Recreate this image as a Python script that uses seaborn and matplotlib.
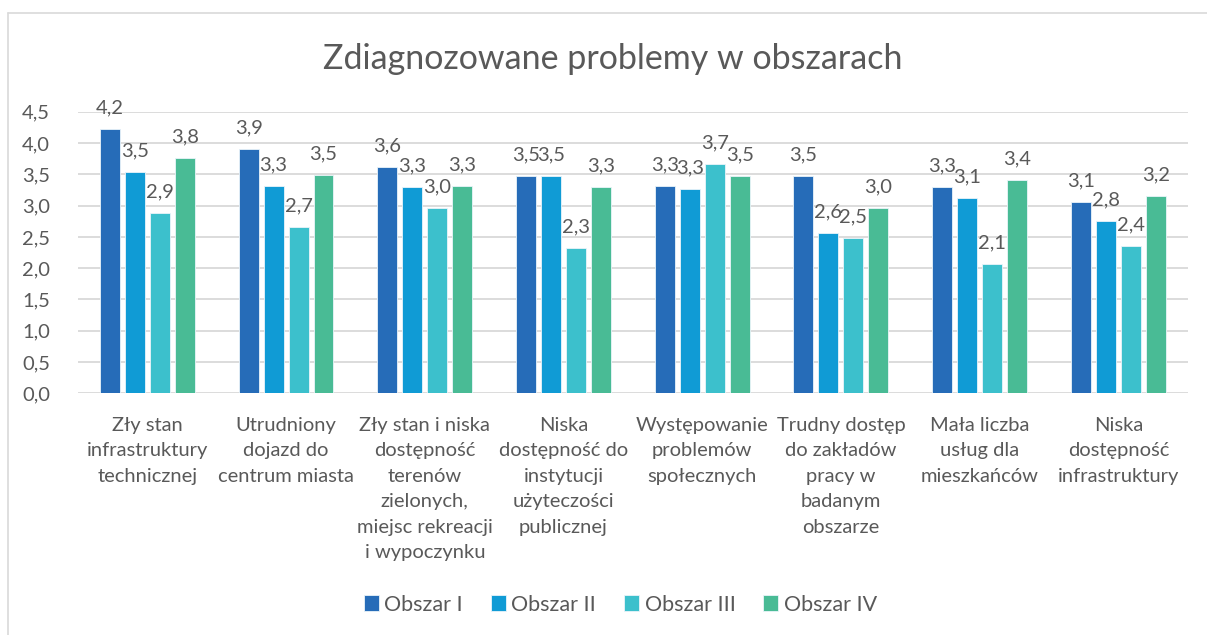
import numpy as np
import pandas as pd
import matplotlib
matplotlib.use("Agg")
import matplotlib.pyplot as plt
import seaborn as sns
from matplotlib.lines import Line2D

categories = [
    "Zły stan\ninfrastruktury\ntechnicznej",
    "Utrudniony\ndojazd do\ncentrum miasta",
    "Zły stan i niska\ndostępność\nterenów\nzielonych,\nmiejsc rekreacji\ni wypoczynku",
    "Niska\ndostępność do\ninstytucji\nużyteczości\npublicznej",
    "Występowanie\nproblemów\nspołecznych",
    "Trudny dostęp\ndo zakładów\npracy w\nbadanym\nobszarze",
    "Mała liczba\nusług dla\nmieszkańców",
    "Niska\ndostępność\ninfrastruktury",
]
series = ["Obszar I", "Obszar II", "Obszar III", "Obszar IV"]

obszar_1 = [4.23, 3.90, 3.62, 3.47, 3.31, 3.47, 3.30, 3.06]
obszar_2 = [3.54, 3.32, 3.30, 3.48, 3.26, 2.56, 3.12, 2.75]
obszar_3 = [2.88, 2.66, 2.96, 2.32, 3.67, 2.49, 2.07, 2.36]
obszar_4 = [3.76, 3.49, 3.31, 3.30, 3.47, 2.96, 3.41, 3.16]

colors = ["#266CB8", "#109BD5", "#3CC0CC", "#49BB95"]
text_gray = "#595959"

df = pd.DataFrame({
    "kategoria": categories * 4,
    "obszar": np.repeat(series, len(categories)),
    "wartosc": obszar_1 + obszar_2 + obszar_3 + obszar_4,
})

sns.set_style("white")
plt.rcParams["font.family"] = ["Lato", "DejaVu Sans"]

fig = plt.figure(figsize=(12.07, 6.35), dpi=100)
ax = fig.add_axes([0.0646, 0.3806, 0.9194, 0.4434])

sns.barplot(
    data=df,
    x="kategoria",
    y="wartosc",
    hue="obszar",
    palette=colors,
    saturation=1,
    width=0.72,
    gap=0.2,
    edgecolor="#EAF4FA",
    linewidth=0.6,
    legend=True,
    ax=ax,
    zorder=3,
)

for cont in ax.containers:
    labels = [f"{b.get_height():.1f}".replace(".", ",") for b in cont]
    ax.bar_label(cont, labels=labels, padding=9, fontsize=14.5, color=text_gray)

ax.set_ylim(0, 4.5)
ax.set_yticks(np.arange(0, 4.51, 0.5))
ax.set_yticklabels([f"{t:.1f}".replace(".", ",") for t in np.arange(0, 4.51, 0.5)])
ax.yaxis.grid(True, color="#D9D9D9", linewidth=1.3, zorder=0)
ax.set_axisbelow(True)
for s in ax.spines.values():
    s.set_visible(False)
ax.tick_params(axis="y", length=0, pad=20, labelsize=14.5, labelcolor=text_gray)
ax.tick_params(axis="x", length=0, pad=17, labelsize=14.5, labelcolor=text_gray)
for lab in ax.get_xticklabels():
    lab.set_linespacing(1.6)
    lab.set_verticalalignment("top")
ax.set_xlabel("")
ax.set_ylabel("")

fig.text(0.508, 0.907, "Zdiagnozowane problemy w obszarach", ha="center", va="center",
         fontsize=24.5, color=text_gray)

handles, lbls = ax.get_legend_handles_labels()
ax.legend_.remove()
fig.legend(handles, lbls, loc="center", bbox_to_anchor=(0.514, 0.048), ncol=4,
           frameon=False, fontsize=15.5, labelcolor=text_gray,
           handlelength=0.7, handleheight=0.7, handletextpad=0.25, columnspacing=1.3)

fig.add_artist(Line2D([8 / 1207, 8 / 1207], [0, 1 - 13 / 635], color="#D9D9D9", linewidth=1.2))
fig.add_artist(Line2D([8 / 1207, 1], [1 - 13 / 635, 1 - 13 / 635], color="#D9D9D9", linewidth=1.2))

fig.savefig("out.png", dpi=100)
